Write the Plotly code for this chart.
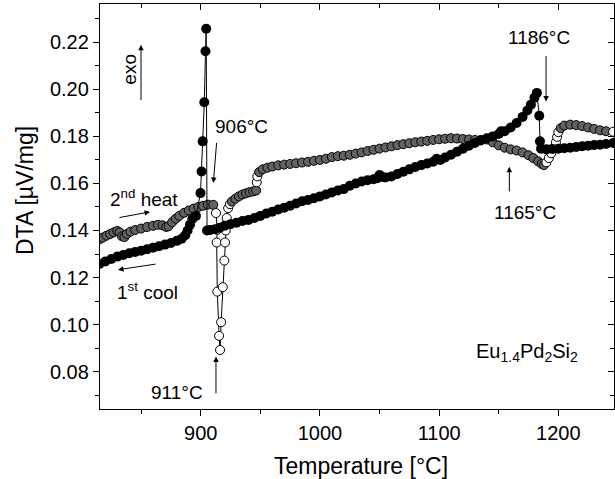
import plotly.graph_objects as go

# ---- 1st cool (filled circles) ----
cool_T = [815, 820, 825, 830, 835, 840, 845, 850, 855, 860, 865, 870, 875, 880, 884, 887, 889, 891, 893, 896,
          899.8, 900.7, 901.6, 903.0, 904.0, 904.6,
          905.3, 908, 912, 916, 920, 925, 930, 935, 940, 945, 950, 955, 960, 965, 970, 975, 980, 985, 990, 995,
          1000, 1005, 1010, 1015, 1020, 1025, 1030, 1035, 1040, 1045, 1048, 1050, 1052, 1055, 1060, 1065, 1070,
          1075, 1080, 1085, 1090, 1095, 1098, 1101, 1105, 1110, 1115, 1120, 1125, 1130, 1135, 1140, 1145, 1150,
          1152, 1155, 1160, 1165, 1170, 1174, 1177, 1180, 1182,
          1184.0, 1184.6, 1185.5, 1190, 1195, 1200, 1205, 1210, 1215, 1220, 1225, 1230, 1235, 1240, 1246]
cool_DTA = [0.1258, 0.1268, 0.1279, 0.1289, 0.1296, 0.1303, 0.1309, 0.1314, 0.1320, 0.1327, 0.1333, 0.1340,
            0.1347, 0.1356, 0.1365, 0.1380, 0.1400, 0.1425, 0.1450, 0.1462,
            0.1559, 0.1651, 0.1779, 0.1945, 0.2162, 0.2258,
            0.1400, 0.1402, 0.1405, 0.1412, 0.1420, 0.1427, 0.1433, 0.1440, 0.1445, 0.1453, 0.1462, 0.1472,
            0.1480, 0.1489, 0.1497, 0.1505, 0.1515, 0.1524, 0.1530, 0.1537,
            0.1545, 0.1553, 0.1562, 0.1570, 0.1576, 0.1590, 0.1600, 0.1608, 0.1614, 0.1618, 0.1622, 0.1636,
            0.1628, 0.1625, 0.1630, 0.1640, 0.1650,
            0.1660, 0.1670, 0.1678, 0.1685, 0.1692, 0.1705, 0.1700, 0.1710, 0.1722, 0.1735, 0.1748, 0.1760,
            0.1772, 0.1783, 0.1792, 0.1800, 0.1810,
            0.1822, 0.1822, 0.1838, 0.1857, 0.1883, 0.1910, 0.1935, 0.1965, 0.1985,
            0.1888, 0.1779, 0.1748, 0.1745, 0.1747, 0.1748, 0.1750, 0.1752, 0.1755, 0.1758, 0.1760, 0.1763,
            0.1765, 0.1768, 0.1772]

# ---- 2nd heat (open circles) ----
heat_T = [815, 818, 821, 824, 827, 830, 832, 834, 836, 838, 841, 845, 850, 855, 860, 864, 868, 871, 873, 876,
          879, 882, 886, 890, 894, 898, 902, 906,
          910.5, 912.8, 913.9, 913.4, 913.9, 915.4, 916.2, 917.1, 918.5, 919.8, 920.4,
          921, 921.8, 923, 924.5, 926, 929, 932, 935, 938, 941, 944, 946.5, 947, 947.5, 949, 952, 956, 960,
          965, 970, 975, 980, 985, 990, 995, 1000, 1005, 1010, 1015, 1020, 1025, 1030, 1035, 1040, 1045, 1050,
          1055, 1060, 1065, 1070, 1075, 1080, 1085, 1090, 1095, 1100, 1105, 1110, 1115, 1120, 1125, 1130, 1135,
          1140, 1145, 1150, 1155, 1160, 1165, 1170, 1175, 1179, 1183, 1186, 1188, 1190, 1192, 1194, 1196, 1198,
          1199, 1200, 1202, 1205, 1210, 1215, 1220, 1225, 1230, 1235, 1240, 1246]
heat_DTA = [0.1362, 0.1370, 0.1378, 0.1385, 0.1392, 0.1398, 0.1392, 0.1375, 0.1372, 0.1385, 0.1395, 0.1402,
            0.1408, 0.1415, 0.1420, 0.1424, 0.1422, 0.1415, 0.1418, 0.1435,
            0.1450, 0.1462, 0.1475, 0.1485, 0.1493, 0.1500, 0.1505, 0.1510,
            0.1509, 0.1474, 0.1403, 0.1349, 0.1140, 0.0952, 0.0892, 0.1010, 0.1159, 0.1272, 0.1349,
            0.1400, 0.1453, 0.1495, 0.1512, 0.1523, 0.1535, 0.1545, 0.1553, 0.1558, 0.1563, 0.1566, 0.1570,
            0.1605, 0.1630, 0.1648, 0.1660, 0.1667, 0.1672,
            0.1677, 0.1680, 0.1683, 0.1686, 0.1689, 0.1692, 0.1696, 0.1700, 0.1705, 0.1712, 0.1716, 0.1718,
            0.1722, 0.1727, 0.1732, 0.1738, 0.1743, 0.1748,
            0.1753, 0.1758, 0.1763, 0.1767, 0.1771, 0.1775, 0.1778, 0.1781, 0.1785, 0.1788, 0.1790, 0.1792,
            0.1791, 0.1789, 0.1787, 0.1785, 0.1785,
            0.1787, 0.1775, 0.1762, 0.1752, 0.1745, 0.1740, 0.1732, 0.1720, 0.1708, 0.1694, 0.1683, 0.1678,
            0.1690, 0.1708, 0.1728, 0.1752, 0.1775,
            0.1798, 0.1818, 0.1835, 0.1846, 0.1850, 0.1848, 0.1844, 0.1838, 0.1832, 0.1826, 0.1822, 0.1820]

x_range = [815.5, 1246.7]
y_range = [0.0641, 0.2363]
x_ticks = [900, 1000, 1100, 1200]
y_ticks = [0.08, 0.10, 0.12, 0.14, 0.16, 0.18, 0.20, 0.22]

FONT = "Arial, Liberation Sans, sans-serif"
W, H = 615, 479
ML, MR, MT, MB = 100, 1, 4, 70

# Open circles that sit in the densely overlapping (braided) band look grey in the
# reference; isolated open circles stay white.  Decide from on-screen spacing.
px_x = (W - ML - MR) / (x_range[1] - x_range[0])
px_y = (H - MT - MB) / (y_range[1] - y_range[0])
heat_fill = []
for i in range(len(heat_T)):
    dense = False
    for j in (i - 1, i + 1):
        if 0 <= j < len(heat_T):
            dx = abs(heat_T[j] - heat_T[i]) * px_x
            dy = abs(heat_DTA[j] - heat_DTA[i]) * px_y
            if (dx * dx + dy * dy) ** 0.5 <= 6.6 and dx >= dy:
                dense = True
    heat_fill.append("#626262" if dense else "white")

fig = go.Figure()
fig.add_trace(go.Scatter(x=heat_T, y=heat_DTA, mode="lines+markers", name="2nd heat",
                         line=dict(color="black", width=1),
                         marker=dict(symbol="circle", size=9, color=heat_fill,
                                     line=dict(color="black", width=1))))
fig.add_trace(go.Scatter(x=cool_T, y=cool_DTA, mode="lines+markers", name="1st cool",
                         line=dict(color="black", width=1),
                         marker=dict(symbol="circle", size=10, color="black",
                                     line=dict(color="black", width=0))))
# helper trace so the mirrored (inward-tick) axes are drawn
fig.add_trace(go.Scatter(x=[], y=[], xaxis="x2", yaxis="y2", showlegend=False, hoverinfo="skip"))

axis_common = dict(showgrid=False, zeroline=False, linecolor="black", linewidth=1.3,
                   tickcolor="black", tickwidth=1.3, ticklen=6,
                   tickfont=dict(family=FONT, size=20, color="black"))

fig.update_layout(
    width=W, height=H,
    margin=dict(l=ML, r=MR, t=MT, b=MB),
    plot_bgcolor="white", paper_bgcolor="white",
    showlegend=False,
    xaxis=dict(range=x_range, tickvals=x_ticks, ticks="outside", mirror=True,
               minor=dict(dtick=50, tick0=850, ticks="outside", ticklen=4, tickcolor="black", tickwidth=1.3),
               **axis_common),
    yaxis=dict(range=y_range, tickvals=y_ticks, tickformat=".2f", ticks="outside", mirror=True,
               minor=dict(dtick=0.02, tick0=0.07, ticks="outside", ticklen=4, tickcolor="black", tickwidth=1.3),
               **axis_common),
    xaxis2=dict(range=x_range, overlaying="x", side="top", anchor="y", tickvals=x_ticks, ticks="inside",
                showticklabels=False, showline=False, showgrid=False, zeroline=False,
                tickcolor="black", tickwidth=1.3, ticklen=6,
                minor=dict(dtick=50, tick0=850, ticks="inside", ticklen=4, tickcolor="black", tickwidth=1.3)),
    yaxis2=dict(range=y_range, overlaying="y", side="right", anchor="x", tickvals=y_ticks, ticks="inside",
                showticklabels=False, showline=False, showgrid=False, zeroline=False,
                tickcolor="black", tickwidth=1.3, ticklen=6,
                minor=dict(dtick=0.02, tick0=0.07, ticks="inside", ticklen=4, tickcolor="black", tickwidth=1.3)),
)

# axis titles (placed as paper annotations for exact positioning)
title_font = dict(family=FONT, size=23, color="black")
fig.add_annotation(x=(361 - ML) / (W - ML - MR), y=-(466 - (H - MB)) / (H - MT - MB),
                   xref="paper", yref="paper", text="Temperature [°C]", showarrow=False,
                   font=title_font, xanchor="center", yanchor="middle")
fig.add_annotation(x=(25 - ML) / (W - ML - MR), y=((H - MB) - 191) / (H - MT - MB),
                   xref="paper", yref="paper", text="DTA [µV/mg]", showarrow=False, textangle=-90,
                   font=title_font, xanchor="center", yanchor="middle")

# text labels
labels = [
    (933.8, 0.1841, "906°C", 0, 19),
    (852.4, 0.1539, "2<sup>nd</sup> heat", 0, 19),
    (855.0, 0.1143, "1<sup>st</sup> cool", 0, 19),
    (880.5, 0.0711, "911°C", 0, 19),
    (1183.8, 0.2221, "1186°C", 0, 19),
    (1171.8, 0.1475, "1165°C", 0, 19),
    (1174.0, 0.0880, "Eu<sub>1.4</sub>Pd<sub>2</sub>Si<sub>2</sub>", 0, 20),
    (840.7, 0.2084, "exo", -90, 19),
]
for x, y, t, ang, fs in labels:
    fig.add_annotation(x=x, y=y, xref="x", yref="y", text=t, showarrow=False,
                       font=dict(family=FONT, size=fs, color="black"),
                       textangle=ang, xanchor="center", yanchor="middle")

# arrows: (head_x, head_y, tail_x, tail_y)
arrows = [
    (849.9, 0.2190, 849.9, 0.1948),
    (910.6, 0.1602, 913.4, 0.1779),
    (857.5, 0.1479, 830.6, 0.1454),
    (830.6, 0.1233, 863.3, 0.1258),
    (912.8, 0.0864, 912.8, 0.0701),
    (1189.7, 0.1948, 1189.7, 0.2148),
    (1158.9, 0.1671, 1158.9, 0.1560),
]
for hx, hy, tx, ty in arrows:
    fig.add_annotation(x=hx, y=hy, ax=tx, ay=ty, xref="x", yref="y", axref="x", ayref="y",
                       text="", showarrow=True, arrowhead=2, arrowsize=1.1, arrowwidth=1,
                       arrowcolor="black")

fig.write_html("out.html")
